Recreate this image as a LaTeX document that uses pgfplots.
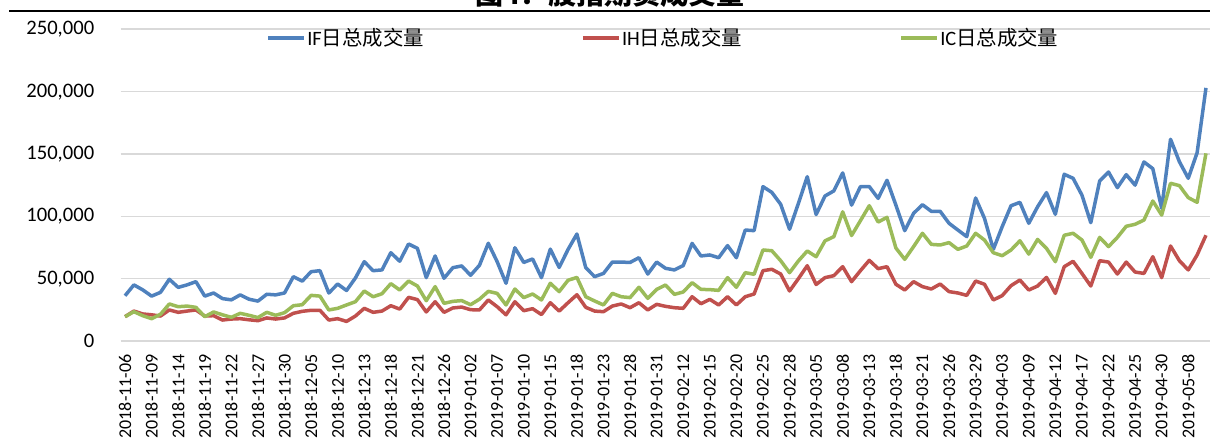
\documentclass[border=0pt]{standalone}
\usepackage{fontspec}
\setmainfont{Carlito}
\newfontfamily\cjk{Noto Sans CJK SC}
\usepackage{pgfplots}
\usepackage{pgfplotstable}
\pgfplotsset{compat=1.18}
\definecolor{ifblue}{HTML}{4F81BD}
\definecolor{ihred}{HTML}{C0504D}
\definecolor{icgreen}{HTML}{9BBB59}
\definecolor{gridgray}{HTML}{D9D9D9}

\pgfplotstableread{
i IF IH IC
0 36300 19500 19500
1 45000 24000 23500
2 41000 21700 20300
3 36000 21000 17900
4 39000 20000 21400
5 49500 24900 29700
6 43000 23000 27500
7 45000 24000 28000
8 47600 24900 27000
9 36000 20000 19500
10 38500 20300 23300
11 34000 16800 21000
12 33000 17600 19000
13 37000 17900 22200
14 33500 17000 20600
15 32000 16300 18800
16 37500 18500 23000
17 37000 17600 20600
18 38500 18500 22700
19 51600 22200 28300
20 48000 23800 29100
21 55600 24600 36600
22 56400 24600 36000
23 38500 16800 24900
24 45700 17900 26200
25 40500 15700 28900
26 50500 20000 31500
27 63600 26200 40100
28 56400 23000 35500
29 57000 24000 37900
30 70800 28300 46000
31 64000 25600 40900
32 77800 35000 48100
33 74300 33200 44100
34 50800 23300 32300
35 68200 31500 43600
36 50300 23000 30200
37 58800 26500 31800
38 60200 27200 32400
39 52700 25100 29100
40 60700 24900 33500
41 78400 32900 39800
42 63600 27500 38200
43 46300 21000 28900
44 74800 31500 41700
45 63000 24300 34800
46 65800 25900 37700
47 50800 21200 32900
48 73700 30700 46300
49 59000 24000 39600
50 73400 30700 48700
51 85800 37100 51000
52 58800 27000 35500
53 51600 24000 32100
54 54200 23500 28900
55 63300 28000 38200
56 63300 29700 35500
57 63000 26700 34800
58 66800 30700 43100
59 53700 24900 34200
60 63300 29400 41400
61 58300 27800 44900
62 57000 26700 37400
63 60500 26200 39300
64 78300 35500 46800
65 68200 29900 41400
66 69000 33400 41200
67 66800 28900 40600
68 76500 35500 50800
69 66800 28900 43100
70 89000 35500 54800
71 88500 37700 53500
72 123800 56400 73000
73 119200 57500 72400
74 109600 53700 64400
75 89600 40100 54800
76 110400 50000 64200
77 131800 60400 72200
78 101400 45300 67600
79 116300 50800 80300
80 120400 52400 83700
81 134800 59600 103600
82 109000 47600 84600
83 123800 56400 96500
84 123800 64700 108500
85 114400 58000 95400
86 128900 59600 99200
87 109000 45500 74600
88 88500 40900 65500
89 102400 47600 75700
90 109300 43600 86400
91 104000 41700 77500
92 104000 45700 77000
93 94400 39600 78900
94 89000 38500 73500
95 83700 36600 76200
96 114700 48100 86400
97 98400 45500 81000
98 73500 32900 70800
99 91700 36400 68400
100 108500 44400 73000
101 111200 48900 80400
102 94400 40900 69700
103 107700 44100 81500
104 119000 51000 74300
105 101600 38200 63600
106 133700 59600 84800
107 130500 63900 86400
108 117000 54200 81000
109 94900 44100 67100
110 128300 64400 83100
111 135500 63300 75700
112 123000 53700 83100
113 133400 63300 92000
114 125000 55300 93600
115 143600 54200 97000
116 138200 67600 112300
117 106400 50800 101000
118 161800 76200 126500
119 143800 64400 124600
120 130500 57000 115000
121 151000 69000 111200
122 203000 84800 150500
}\voldata

\begin{document}
\begin{tikzpicture}
\useasboundingbox (0,0) rectangle (605pt,221.5pt);
\begin{scope}
\clip (0,0) rectangle (605pt,221.5pt);
\node[anchor=south, inner sep=0pt, font=\cjk\bfseries\fontsize{14}{17}\selectfont] at (305pt,217.5pt) {图4：股指期货成交量};
\end{scope}
\draw[line width=1pt] (4.5pt,216pt) -- (605pt,216pt);
\begin{axis}[
  at={(60.3pt,51pt)}, anchor=south west,
  scale only axis, width=544.9pt, height=155.85pt,
  xmin=-0.5, xmax=122.5, ymin=0, ymax=250000,
  axis line style={draw=none},
  major tick length=0pt,
  ymajorgrids, grid style={gridgray, line width=0.8pt},
  ytick={0,50000,100000,150000,200000,250000},
  scaled y ticks=false,
  /pgf/number format/fixed,
  /pgf/number format/1000 sep={,},
  /pgf/number format/assume math mode=true,
  yticklabel style={anchor=east, inner sep=0pt, font=\fontsize{10.3}{12}\selectfont},
  yticklabel shift=13pt,
  xtick={0,3,...,120},
  xticklabels={2018-11-06,2018-11-09,2018-11-14,2018-11-19,2018-11-22,2018-11-27,2018-11-30,2018-12-05,2018-12-10,2018-12-13,2018-12-18,2018-12-21,2018-12-26,2019-01-02,2019-01-07,2019-01-10,2019-01-15,2019-01-18,2019-01-23,2019-01-28,2019-01-31,2019-02-12,2019-02-15,2019-02-20,2019-02-25,2019-02-28,2019-03-05,2019-03-08,2019-03-13,2019-03-18,2019-03-21,2019-03-26,2019-03-29,2019-04-03,2019-04-09,2019-04-12,2019-04-17,2019-04-22,2019-04-25,2019-04-30,2019-05-08},
  xticklabel style={rotate=90, anchor=east, inner sep=0pt, font=\fontsize{9}{11}\selectfont},
  xticklabel shift=6.5pt,
  legend columns=3,
  legend style={draw=none, fill=none, at={(0.1334,0.972)}, anchor=west, inner sep=0pt,
    font=\fontsize{10.2}{12}\selectfont, nodes={inner sep=0.7pt},
    /tikz/every even column/.append style={column sep=78pt}},
  legend image code/.code={\draw[#1] (0pt,0pt) -- (18pt,0pt);},
  every axis plot/.append style={line width=1.75pt, line join=round, no markers},
]
\addplot[ifblue] table[x=i, y=IF] {\voldata};
\addlegendentry{IF{\cjk 日总成交量}}
\addplot[ihred] table[x=i, y=IH] {\voldata};
\addlegendentry{IH{\cjk 日总成交量}}
\addplot[icgreen] table[x=i, y=IC] {\voldata};
\addlegendentry{IC{\cjk 日总成交量}}
\end{axis}
\end{tikzpicture}
\end{document}
